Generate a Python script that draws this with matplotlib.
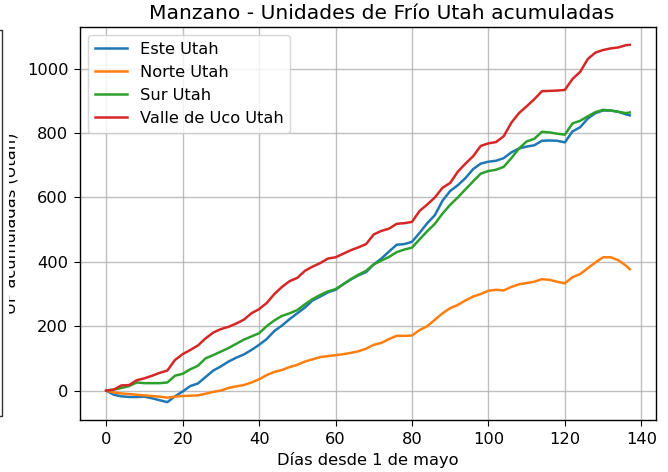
import numpy as np
import matplotlib
matplotlib.use('Agg')
import matplotlib.pyplot as plt
from matplotlib.patches import Rectangle
from matplotlib.lines import Line2D

plt.rcParams.update({
    'font.size': 11.7,
    'xtick.major.size': 4.2,
    'ytick.major.size': 4.2,
    'xtick.major.pad': 4.2,
    'ytick.major.pad': 4.2,
    'axes.linewidth': 1.0,
})

# ====== Data ======
dias = [0, 2, 4, 6, 8, 10, 12, 14, 16, 18, 20, 22, 24, 26, 28, 30, 32, 34, 36, 38,
        40, 42, 44, 46, 48, 50, 52, 54, 56, 58, 60, 62, 64, 66, 68, 70, 72, 74, 76, 78,
        80, 82, 84, 86, 88, 90, 92, 94, 96, 98, 100, 102, 104, 106, 108, 110, 112, 114,
        116, 118, 120, 122, 124, 126, 128, 130, 132, 134, 136, 137]

este = [0, -13, -18, -20, -20, -19, -24, -30, -36, -18, -3, 14, 22, 42, 62, 75, 90, 102,
        112, 126, 142, 160, 185, 202, 222, 240, 258, 280, 292, 305, 313, 330, 345, 358,
        368, 392, 410, 432, 453, 455, 462, 490, 520, 545, 590, 620, 638, 660, 688, 705,
        711, 714, 722, 740, 752, 758, 762, 776, 777, 776, 771, 805, 818, 845, 862, 870,
        870, 866, 858, 855]

norte = [0, -6, -9, -11, -13, -15, -17, -19, -22, -19, -17, -16, -15, -10, -4, 0, 8, 13,
         17, 25, 35, 48, 58, 64, 73, 80, 90, 97, 104, 107, 110, 113, 117, 122, 130, 142,
         148, 160, 170, 170, 171, 188, 200, 220, 240, 256, 266, 280, 292, 300, 310, 313,
         311, 322, 330, 334, 338, 346, 344, 338, 333, 352, 362, 380, 398, 414, 414, 405,
         388, 377]

sur = [0, 3, 8, 14, 25, 23, 23, 23, 25, 46, 52, 66, 77, 100, 110, 121, 132, 145, 158,
       168, 178, 200, 218, 232, 240, 250, 268, 284, 297, 308, 315, 330, 346, 360, 372,
       392, 404, 415, 430, 438, 444, 470, 495, 518, 550, 577, 600, 625, 650, 674, 682,
       686, 695, 722, 752, 774, 782, 804, 802, 798, 795, 830, 838, 852, 865, 872, 870,
       866, 862, 864]

valle = [0, 3, 16, 17, 32, 38, 46, 55, 62, 95, 113, 126, 140, 162, 180, 191, 198, 208,
         220, 240, 253, 272, 300, 322, 340, 350, 372, 385, 396, 410, 414, 425, 436, 445,
         455, 485, 496, 503, 518, 520, 524, 558, 578, 600, 630, 645, 680, 705, 728, 760,
         768, 772, 790, 832, 862, 883, 905, 930, 931, 932, 934, 968, 990, 1030, 1050,
         1058, 1063, 1066, 1073, 1074]

series = [
    ('Este Utah', este),
    ('Norte Utah', norte),
    ('Sur Utah', sur),
    ('Valle de Uco Utah', valle),
]

W, H = 668, 472
fig = plt.figure(figsize=(W / 100, H / 100), dpi=100)
ax = fig.add_axes([80 / W, 1 - 420 / H, 576 / W, 393 / H])

for nombre, vals in series:
    ax.plot(dias, vals, lw=1.8, label=nombre)

ax.set_title('Manzano - Unidades de Frío Utah acumuladas', fontsize=14.6,
             x=(382 - 80) / 576)
ax.set_xlabel('Días desde 1 de mayo')
ax.set_ylabel('UF acumuladas (Utah)')
ax.yaxis.set_label_coords((18.5 - 80) / 576, 0.5)
ax.grid(True, color='#b0b0b0', lw=1.0, alpha=0.8)
ax.legend(loc='upper left')

# left edge of the neighbouring panel that covers part of the label
fig.patches.append(Rectangle((0, 0), 9.3 / W, 1, transform=fig.transFigure,
                             facecolor='white', edgecolor='none', zorder=5))
fx = 2 / W
fig.lines.append(Line2D([0, fx, fx, 0], [1 - 30 / H, 1 - 30 / H, 1 - 416 / H, 1 - 416 / H],
                        transform=fig.transFigure, color='#333333', lw=1.0, zorder=6))

fig.savefig('out.png', dpi=100)
